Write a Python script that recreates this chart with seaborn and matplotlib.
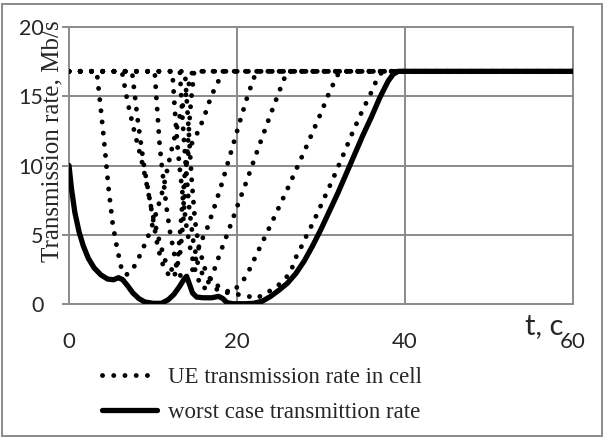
import matplotlib
matplotlib.use("Agg")
import matplotlib.pyplot as plt
from matplotlib.patches import Rectangle
from matplotlib.lines import Line2D
import seaborn as sns
import pandas as pd

# ---- data ----
ue1_t = [0, 3.3, 3.8, 4.3, 4.7, 5.2, 5.7, 6.3, 6.8, 7.5, 8.6, 9.7, 10.5, 11.2, 12.2, 13.2, 14.0, 14.7, 60]
ue1_y = [16.8, 16.8, 14.0, 11.0, 8.4, 5.8, 4.1, 2.4, 2.1, 2.4, 3.7, 5.3, 6.8, 8.3, 11.1, 13.6, 15.3, 16.8, 16.8]

ue2_t = [0, 6.3, 7.0, 7.8, 8.6, 9.1, 9.9, 10.6, 11.4, 12.0, 12.6, 13.0, 13.4, 13.8, 14.3, 14.8, 15.5, 16.0, 16.5, 16.9, 17.5, 18.3, 60]
ue2_y = [16.8, 16.8, 14.5, 12.4, 10.5, 9.1, 6.6, 4.9, 3.2, 2.6, 2.3, 3.5, 6.5, 9.5, 11.2, 11.8, 12.6, 13.4, 14.2, 15.0, 15.7, 16.8, 16.8]

ue3_t = [0, 7.5, 8.2, 8.9, 9.4, 9.9, 10.6, 11.3, 12.0, 12.5, 13.2, 13.6, 13.9, 14.2, 14.5, 14.9, 60]
ue3_y = [16.8, 16.8, 13.2, 10.1, 8.3, 6.5, 4.0, 2.6, 2.0, 1.9, 3.5, 6.0, 9.0, 12.0, 14.5, 16.8, 16.8]

ue4_t = [0, 10.2, 10.4, 10.6, 10.8, 11.1, 11.6, 12.0, 12.5, 12.8, 13.2, 14.0, 14.8, 15.6, 16.3, 17.2, 18.1, 19.3, 20.5, 21.3, 22.3, 60]
ue4_y = [16.8, 16.8, 14.9, 13.2, 11.4, 9.7, 7.0, 5.3, 3.7, 2.8, 2.1, 1.6, 2.6, 4.4, 5.2, 6.8, 8.5, 11.0, 13.5, 15.1, 16.8, 16.8]

ue5_t = [0, 12.3, 12.6, 12.9, 13.2, 13.6, 14.0, 14.5, 15.0, 15.5, 16.0, 16.5, 17.2, 18.0, 19.0, 20.0, 21.1, 22.5, 24.0, 25.5, 26.0, 60]
ue5_y = [16.8, 16.8, 14.0, 11.5, 9.7, 7.5, 5.5, 3.8, 2.5, 1.6, 1.1, 1.3, 2.3, 3.7, 5.3, 7.0, 8.8, 11.2, 13.7, 16.1, 16.8, 16.8]

ue6_t = [0, 13.2, 13.5, 13.9, 14.3, 14.8, 15.3, 16.0, 17.0, 18.0, 19.0, 20.1, 21.1, 22.5, 24.0, 26.0, 28.0, 30.0, 31.0, 32.2, 60]
ue6_y = [16.8, 16.8, 13.5, 10.0, 7.0, 4.5, 3.0, 2.0, 1.3, 0.9, 0.8, 1.25, 2.0, 3.8, 5.7, 8.3, 11.0, 13.8, 15.3, 16.8, 16.8]

ue7_t = [0, 13.8, 14.2, 14.6, 15.0, 15.5, 16.2, 17.0, 18.5, 20.0, 21.1, 22.3, 23.8, 25.0, 26.3, 27.1, 27.8, 28.4, 29.0, 30.2, 31.4, 32.6, 33.7, 34.8, 36.0, 36.5, 37.3, 60]
ue7_y = [16.8, 16.8, 13.0, 9.0, 6.0, 4.0, 2.5, 1.6, 1.0, 0.7, 0.6, 0.4, 0.9, 1.4, 2.2, 3.5, 4.3, 5.1, 5.8, 7.4, 9.0, 10.7, 12.3, 13.8, 15.3, 16.0, 16.8, 16.8]

worst_t = [0, 0.3, 0.7, 1.2, 1.7, 2.3, 3.0, 3.8, 4.6, 5.3, 5.9, 6.4, 7.0, 7.6, 8.3, 9.0, 10.0, 11.0, 11.8, 12.5, 13.2,
           13.7, 14.0, 14.3, 14.7, 15.2, 16.0, 17.0, 17.8, 18.3, 18.8, 19.5, 21.0, 22.0, 23.0, 24.0, 25.0, 26.0, 27.0,
           28.0, 29.0, 30.0, 31.0, 32.0, 33.0, 34.0, 35.0, 36.0, 37.0, 38.0, 38.6, 39.2, 60]
worst_y = [10.0, 8.3, 6.6, 5.2, 4.2, 3.3, 2.6, 2.1, 1.8, 1.75, 1.9, 1.75, 1.3, 0.8, 0.4, 0.15, 0.05, 0.05, 0.3, 0.7, 1.3,
           1.8, 2.0, 1.5, 0.8, 0.5, 0.45, 0.45, 0.55, 0.4, 0.1, 0.02, 0.02, 0.05, 0.2, 0.55, 1.0, 1.5, 2.2,
           3.1, 4.2, 5.4, 6.7, 8.0, 9.4, 10.8, 12.2, 13.5, 14.9, 16.1, 16.6, 16.8, 16.8]

x_ticks = [0, 20, 40, 60]
y_ticks = [0, 5, 10, 15, 20]
label_ue = "UE transmission rate in cell"
label_worst = "worst case transmittion rate"
y_title = "Transmission rate, Mb/s"
x_title = "t, c"

ue_series = [(ue1_t, ue1_y), (ue2_t, ue2_y), (ue3_t, ue3_y), (ue4_t, ue4_y),
             (ue5_t, ue5_y), (ue6_t, ue6_y), (ue7_t, ue7_y)]

sns.set_theme(style="white")
plt.rcParams["font.family"] = ["Lato", "DejaVu Sans"]

W, H = 612, 438
fig = plt.figure(figsize=(W / 100, H / 100), dpi=100)
x0, x1, y0, y1 = 69, 573, 27, 304
ax = fig.add_axes([x0 / W, 1 - y1 / H, (x1 - x0) / W, (y1 - y0) / H])

grid_c = "#8a8a8a"
dot_lw = 3.5
dot_style = (0, (0.01, 2.3))

for i, (t, y) in enumerate(ue_series):
    df = pd.DataFrame({"t": t, "rate": y})
    sns.lineplot(data=df, x="t", y="rate", ax=ax, color="black", lw=dot_lw,
                 linestyle=dot_style, dash_capstyle="round", estimator=None,
                 sort=False, legend=False, zorder=3)

dfw = pd.DataFrame({"t": worst_t, "rate": worst_y})
sns.lineplot(data=dfw, x="t", y="rate", ax=ax, color="black", lw=3.8,
             solid_capstyle="round", estimator=None, sort=False, legend=False, zorder=4)

ax.set_xlim(0, 60)
ax.set_ylim(0, 20)
ax.set_xticks(x_ticks)
ax.set_yticks(y_ticks)
ax.set_xticklabels([str(v) for v in x_ticks])
ax.set_yticklabels([str(v) for v in y_ticks])
ax.set_xlabel("")
ax.set_ylabel("")
for s in ax.spines.values():
    s.set_visible(False)
ax.grid(True, color=grid_c, lw=1.4)
for gl in ax.get_xgridlines() + ax.get_ygridlines():
    gl.set_clip_on(False)
ax.tick_params(axis="y", length=5, width=1.4, color=grid_c, pad=13.5, labelsize=15.5, direction="out", left=True)
ax.tick_params(axis="x", length=0, pad=20, labelsize=16)

fig.text(52 / W, 1 - 141 / H, y_title, rotation=90, ha="center", va="center",
         family="Liberation Serif", fontsize=18)
fig.text(544 / W, 1 - 326 / H, x_title, ha="center", va="center", fontsize=21)

h1 = Line2D([], [], color="black", lw=dot_lw, linestyle=dot_style, dash_capstyle="round")
h2 = Line2D([], [], color="black", lw=3.8, solid_capstyle="round")
leg = fig.legend([h1, h2], [label_ue, label_worst], loc="center",
                 bbox_to_anchor=(262 / W, 1 - 395 / H), frameon=False,
                 prop={"family": "Liberation Serif", "size": 16.5},
                 handlelength=2.4, handletextpad=0.45, labelspacing=0.6)

fig.patches.append(Rectangle((2 / W, 2 / H), 600 / W, 432 / H, transform=fig.transFigure,
                             fill=False, edgecolor=grid_c, lw=1.4))

fig.savefig("out.png", dpi=100)
